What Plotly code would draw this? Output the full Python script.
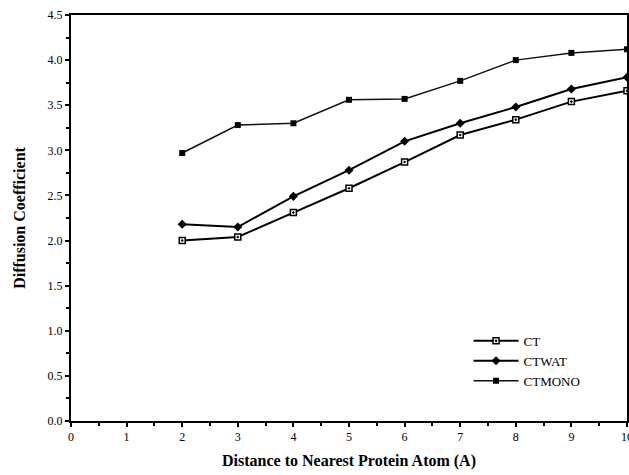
import plotly.graph_objects as go

distance = [2, 3, 4, 5, 6, 7, 8, 9, 10]
ct = [2.00, 2.04, 2.31, 2.58, 2.87, 3.17, 3.34, 3.54, 3.66]
ctwat = [2.18, 2.15, 2.49, 2.78, 3.10, 3.30, 3.48, 3.68, 3.81]
ctmono = [2.97, 3.28, 3.30, 3.56, 3.57, 3.77, 4.00, 4.08, 4.12]

fig = go.Figure()
fig.add_trace(go.Scatter(x=distance, y=ct, name="CT", mode="lines+markers",
    line=dict(color="black", width=2),
    marker=dict(symbol="square-dot", size=6, color="white", line=dict(color="black", width=1.5))))
fig.add_trace(go.Scatter(x=distance, y=ctwat, name="CTWAT", mode="lines+markers",
    line=dict(color="black", width=2),
    marker=dict(symbol="diamond", size=7, color="black")))
fig.add_trace(go.Scatter(x=distance, y=ctmono, name="CTMONO", mode="lines+markers",
    line=dict(color="#111", width=1.5),
    marker=dict(symbol="square", size=6, color="black")))

font_family = "Liberation Serif, Times New Roman, serif"
fig.update_layout(
    width=629, height=475,
    margin=dict(l=71, r=2, t=15, b=54, autoexpand=False),
    paper_bgcolor="white", plot_bgcolor="white",
    font=dict(family=font_family, color="black", size=12),
    showlegend=True,
    legend=dict(x=0.715, y=0.148, xanchor="left", yanchor="middle",
                bgcolor="rgba(0,0,0,0)", font=dict(size=13, family=font_family),
                itemwidth=45, tracegroupgap=0),
    xaxis=dict(range=[0, 10], dtick=1, tick0=0, showgrid=False, zeroline=False, automargin=False,
               showline=True, linecolor="black", linewidth=2, mirror=True,
               ticks="outside", ticklen=4, tickwidth=1.5, tickcolor="black",
               ticklabeloverflow="allow",
               minor=dict(dtick=0.5, ticks="outside", ticklen=3, tickcolor="black", tickwidth=1.5),
               title=dict(text="<b>Distance to Nearest Protein Atom (A)</b>", font=dict(size=16), standoff=11),
               tickfont=dict(size=12)),
    yaxis=dict(range=[0, 4.5], dtick=0.5, tick0=0, tickformat=".1f", showgrid=False, zeroline=False, automargin=False,
               showline=True, linecolor="black", linewidth=2, mirror=True,
               ticks="outside", ticklen=4, tickwidth=1.5, tickcolor="black",
               minor=dict(dtick=0.25, ticks="outside", ticklen=3, tickcolor="black", tickwidth=1.5),
               title=dict(text="<b>Diffusion Coefficient</b>", font=dict(size=16), standoff=18),
               tickfont=dict(size=12)),
)
fig.write_html("out.html", config={"displayModeBar": False},
               post_script="document.body.style.margin='0px';document.body.style.overflow='hidden';")
